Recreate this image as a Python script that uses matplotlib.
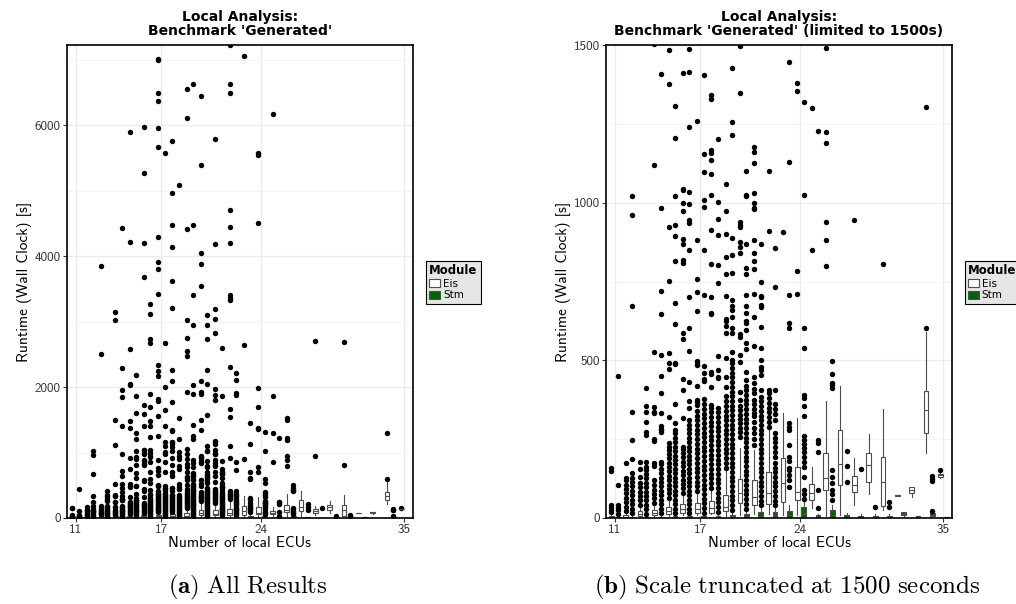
import matplotlib.pyplot as plt
from matplotlib.patches import Patch
from matplotlib.ticker import MultipleLocator, FixedLocator

plt.rcParams['mathtext.fontset'] = 'cm'

# number of local ECUs per benchmark group (34 does not occur)
ecus = [11, 12, 13, 14, 15, 16, 17, 18, 19, 20, 21, 22, 23, 24,
        25, 26, 27, 28, 29, 30, 31, 32, 33, 35]
tick_ecus = [11, 17, 24, 35]

# Eis runtimes [s]: whisker low, q1, median, q3, whisker high
eis_lo = [0, 0, 2, 4, 6, 8, 10, 12, 6, 10, 12, 14, 11, 11, 31, 5, 10, 41, 76, 25, 70, 68, 207, 128]
eis_q1 = [2, 2, 6, 10, 12, 15, 17, 17, 21, 49, 41, 44, 52, 57, 57, 89, 105, 81, 115, 38, 71, 80, 269, 130]
eis_med = [4, 4, 12, 16, 22, 28, 30, 32, 35, 78, 66, 80, 110, 84, 78, 126, 170, 105, 168, 115, 72, 88, 342, 135]
eis_q3 = [7, 8, 22, 25, 36, 44, 49, 55, 74, 123, 120, 145, 189, 163, 108, 205, 278, 134, 205, 192, 73, 99, 403, 139]
eis_hi = [12, 14, 36, 40, 56, 70, 76, 86, 150, 222, 216, 279, 332, 317, 163, 372, 420, 189, 265, 346, 74, 99, 590, 142]
eis_out = [
    [18, 26, 34, 41, 150, 158],
    [22, 36, 50, 64, 78, 92, 106, 120, 126, 173],
    [42, 56, 70, 84, 99, 112, 129, 156, 177, 2509, 3853],
    [48, 62, 76, 90, 104, 120, 164, 174, 243, 250, 332, 337, 352, 527, 1118, 1502, 3018, 3140],
    [64, 78, 92, 106, 120, 134, 148, 162, 176, 190, 204, 216, 226, 237, 319, 472, 493, 523, 752,
     922, 1375, 1484, 2031, 2051, 2586, 4209, 5894],
    [80, 94, 108, 122, 136, 150, 164, 178, 192, 206, 220, 226, 317, 405, 442, 567, 588, 809, 818,
     869, 886, 972, 1000, 1040, 1043, 1410, 1588, 1725, 3685, 4199, 5278, 5971],
    [86, 100, 115, 130, 145, 160, 175, 190, 205, 220, 235, 250, 265, 280, 295, 310, 325, 340, 358,
     369, 375, 418, 484, 489, 499, 657, 716, 757, 882, 1258, 1552, 1782, 1822, 2173, 2250, 2336,
     3426, 3802, 3909, 4291, 5675, 5960, 6378, 6490, 7000, 7014],
    [96, 111, 126, 141, 156, 171, 186, 201, 216, 231, 246, 261, 276, 291, 306, 321, 336, 349, 359,
     415, 457, 463, 647, 650, 702, 804, 913, 1024, 1092, 1135, 1156, 1167, 1330, 1341, 1766, 2097,
     2260, 3202, 3614, 4133, 4469, 4968, 5767],
    [160, 175, 190, 205, 220, 235, 250, 265, 280, 295, 310, 325, 340, 355, 370, 386, 415, 447, 507,
     587, 610, 626, 631, 704, 774, 829, 901, 972, 1060, 1919, 2469, 2545, 2749, 3018, 4413, 6118,
     6551],
    [258, 272, 286, 300, 314, 328, 342, 356, 374, 400, 496, 517, 575, 582, 839, 858, 874, 922, 929,
     940, 1349, 1498, 1888, 1929, 2097, 3543, 3874, 4046, 5400, 6444],
    [232, 250, 268, 286, 304, 322, 332, 345, 360, 375, 395, 410, 427, 448, 546, 639, 710, 789, 815,
     839, 882, 979, 982, 1000, 1032, 1127, 1162, 1178, 1807, 1873, 1970, 2825, 3039, 3191, 4189,
     5787],
    [290, 305, 320, 335, 350, 365, 380, 395, 406, 909, 1101, 1542, 1670, 2301, 3334, 3360, 3410,
     4199, 4444, 4703, 6490, 6637, 7220],
    [906, 2637, 7060],
    [710, 783, 1354, 1380, 1695, 1990, 4510, 5543, 5579],
    [850, 1301, 1858, 6169],
    [800, 883, 940, 1188, 1224, 1491, 1527],
    [],
    [946, 2703],
    [],
    [804, 2693],
    [],
    [],
    [602, 1304],
    [152],
]

# Stm runtimes [s]
stm_lo = [0, 0, 0, 0, 0, 0, 0, 0, 0, 0, 0, 0, 0, 0, 0, 0, 0, 0, 0, 0, 6, 3, 2, 0]
stm_q1 = [1, 1, 1, 1, 1, 1, 1, 1, 2, 3, 2, 3, 3, 4, 2, 3, 1, 1, 1, 1, 8, 4, 5, 1]
stm_med = [2, 2, 2, 2, 2, 2, 2, 3, 5, 6, 6, 8, 10, 12, 4, 8, 3, 3, 3, 3, 12, 5, 10, 2]
stm_q3 = [4, 4, 4, 4, 5, 5, 5, 6, 11, 12, 20, 20, 23, 34, 9, 24, 8, 6, 6, 6, 18, 6, 16, 3]
stm_hi = [8, 8, 9, 9, 10, 11, 12, 14, 20, 22, 36, 36, 40, 50, 14, 40, 17, 12, 12, 12, 20, 7, 20, 4]
stm_out = [
    [14, 24, 33, 41, 105, 449],
    [16, 30, 44, 58, 72, 86, 100, 114, 128, 142, 187, 247, 335, 671, 961, 1021],
    [14, 28, 42, 56, 70, 84, 98, 112, 126, 140, 152, 163, 179, 263, 274, 305, 337, 356, 411],
    [16, 30, 44, 58, 72, 86, 100, 114, 128, 142, 156, 170, 179, 274, 279, 283, 291, 333, 395, 451,
     518, 646, 720, 982, 1408, 1843, 1949, 2296, 4433],
    [16, 30, 44, 58, 72, 86, 100, 114, 128, 142, 156, 170, 184, 198, 212, 226, 240, 254, 268, 280,
     301, 361, 487, 492, 615, 683, 814, 894, 928, 1021, 1204, 1306, 1603, 1868, 2189],
    [16, 30, 44, 58, 72, 86, 100, 114, 128, 142, 156, 170, 184, 198, 212, 226, 240, 254, 268, 282,
     296, 312, 349, 370, 430, 531, 601, 702, 850, 937, 945, 997, 1033, 1240, 1413, 1487, 1695, 1899,
     2667, 2733, 3110, 3263],
    [16, 31, 46, 61, 76, 91, 106, 121, 136, 151, 166, 181, 196, 211, 226, 241, 256, 271, 286, 301,
     316, 331, 346, 361, 376, 433, 442, 459, 483, 707, 850, 985, 1008, 1097, 1154, 1404, 1654, 2000,
     2672, 5579],
    [20, 35, 50, 65, 80, 95, 110, 125, 140, 155, 170, 185, 200, 215, 230, 245, 260, 275, 290, 305,
     320, 335, 349, 444, 448, 469, 515, 746, 802, 898, 947, 1003, 1203, 1532, 5090],
    [26, 41, 56, 71, 86, 101, 116, 131, 146, 161, 176, 191, 206, 221, 236, 251, 266, 281, 296, 311,
     326, 341, 356, 371, 386, 401, 416, 431, 446, 461, 476, 491, 502, 527, 586, 601, 638, 659, 672,
     691, 776, 834, 888, 1214, 1255, 1427, 1893, 2036, 2942, 3400, 4469, 6632],
    [30, 45, 60, 75, 90, 105, 120, 135, 150, 165, 180, 195, 210, 225, 240, 255, 270, 285, 300, 315,
     330, 345, 360, 375, 390, 405, 420, 439, 464, 535, 556, 596, 619, 626, 651, 672, 707, 774, 792,
     869, 1021, 1025, 1099, 1573, 2046, 2265, 2738, 2942, 3095],
    [40, 55, 70, 85, 100, 115, 130, 145, 160, 175, 190, 205, 220, 235, 250, 265, 280, 295, 310, 325,
     340, 355, 370, 385, 406, 453, 469, 480, 501, 540, 607, 670, 675, 702, 704, 748, 868, 1868, 2591],
    [40, 55, 70, 85, 100, 115, 130, 145, 160, 175, 194, 210, 225, 240, 255, 268, 312, 330, 345, 360,
     407, 731, 857, 1883, 1909, 2102, 2214],
    [99, 120, 136, 152, 159, 180, 194, 233, 279, 290, 301, 602, 618, 707, 1130, 1445],
    [60, 75, 90, 131, 163, 178, 193, 208, 223, 236, 247, 259, 325, 354, 380, 391, 539, 602, 1025,
     1320],
    [31, 89, 210, 237, 247, 1226],
    [58, 75, 90, 110, 130, 153, 411, 423, 427, 458, 497],
    [115, 166, 213],
    [154],
    [36],
    [34, 52],
    [],
    [],
    [23, 116, 124, 133],
    [],
]

EDGE = '#4d4d4d'
GREEN = '#0b5e0b'
OFFSET = 0.225


def box_stats(lo, q1, med, q3, hi, out):
    return [dict(whislo=lo[i], q1=q1[i], med=med[i], q3=q3[i], whishi=hi[i], fliers=out[i])
            for i in range(len(ecus))]


def draw_boxes(ax, stats, dx, fill):
    ax.bxp(stats, positions=[i + dx for i in range(len(ecus))], widths=0.33,
           patch_artist=True, showcaps=False, manage_ticks=False,
           boxprops=dict(facecolor=fill, edgecolor=EDGE, linewidth=0.8),
           whiskerprops=dict(color=EDGE, linewidth=0.8),
           medianprops=dict(color=EDGE, linewidth=0.8),
           flierprops=dict(marker='o', markersize=3.9, markerfacecolor='black',
                           markeredgecolor='black', markeredgewidth=0, linestyle='none'))


def panel(ax, ymax, step, title):
    draw_boxes(ax, box_stats(eis_lo, eis_q1, eis_med, eis_q3, eis_hi, eis_out), -OFFSET, 'white')
    draw_boxes(ax, box_stats(stm_lo, stm_q1, stm_med, stm_q3, stm_hi, stm_out), OFFSET, GREEN)

    ax.set_xlim(-0.6, len(ecus) - 0.4)
    ax.set_ylim(0, ymax)
    ax.xaxis.set_major_locator(FixedLocator([ecus.index(e) for e in tick_ecus]))
    ax.set_xticklabels([str(e) for e in tick_ecus])
    ax.yaxis.set_major_locator(MultipleLocator(step))
    ax.yaxis.set_minor_locator(MultipleLocator(step / 2))
    ax.grid(which='major', color='#ebebeb', linewidth=0.9)
    ax.grid(which='minor', axis='y', color='#f3f3f3', linewidth=0.6)
    ax.set_axisbelow(True)
    for s in ax.spines.values():
        s.set_color('black')
        s.set_linewidth(1.2)
    ax.tick_params(which='major', length=3, color='#333333', labelsize=9.5,
                   labelcolor='#333333', pad=1.5)
    ax.tick_params(which='minor', length=0)
    for lab in ax.get_xticklabels() + ax.get_yticklabels():
        lab.set_family('cmss10')
    ax.set_xlabel('Number of local ECUs', family='cmss10', fontsize=11, labelpad=0)
    ax.set_ylabel('Runtime (Wall Clock) [s]', family='cmss10', fontsize=11, labelpad=2)
    ax.set_title(title, fontsize=10, fontweight='bold', family='DejaVu Sans',
                 linespacing=1.0, pad=7)


fig = plt.figure(figsize=(10.16, 6.04), dpi=100)
ax1 = fig.add_axes([67 / 1016, 86 / 604, 346 / 1016, 473 / 604])
ax2 = fig.add_axes([606 / 1016, 86 / 604, 346 / 1016, 473 / 604])

panel(ax1, 7226, 2000, "Local Analysis:\nBenchmark 'Generated'")
panel(ax2, 1500, 500, "Local Analysis:\nBenchmark 'Generated' (limited to 1500s)")

handles = [Patch(facecolor='white', edgecolor=EDGE, linewidth=0.8, label='Eis'),
           Patch(facecolor=GREEN, edgecolor=EDGE, linewidth=0.8, label='Stm')]
for x0 in (421 / 1016, 960 / 1016):
    leg = fig.legend(handles=handles, title='Module', loc='upper left',
                     bbox_to_anchor=(x0, 1 - 256 / 604), fontsize=7.5,
                     title_fontproperties=dict(weight='bold', size=8.5),
                     frameon=True, fancybox=False, edgecolor='black',
                     facecolor='#e6e6e6', framealpha=1, handlelength=1.0,
                     handleheight=0.8, handletextpad=0.3, borderpad=0.3,
                     labelspacing=0.15)
    leg._legend_box.align = 'left'
    leg.get_frame().set_linewidth(0.8)

fig.text(248 / 1016, 1 - 587 / 604, r'$\mathbf{(a)}\ \mathrm{All\ Results}$',
         ha='center', va='center', fontsize=18)
fig.text(787 / 1016, 1 - 587 / 604, r'$\mathbf{(b)}\ \mathrm{Scale\ truncated\ at\ 1500\ seconds}$',
         ha='center', va='center', fontsize=18)

fig.savefig('out.png', dpi=100)
